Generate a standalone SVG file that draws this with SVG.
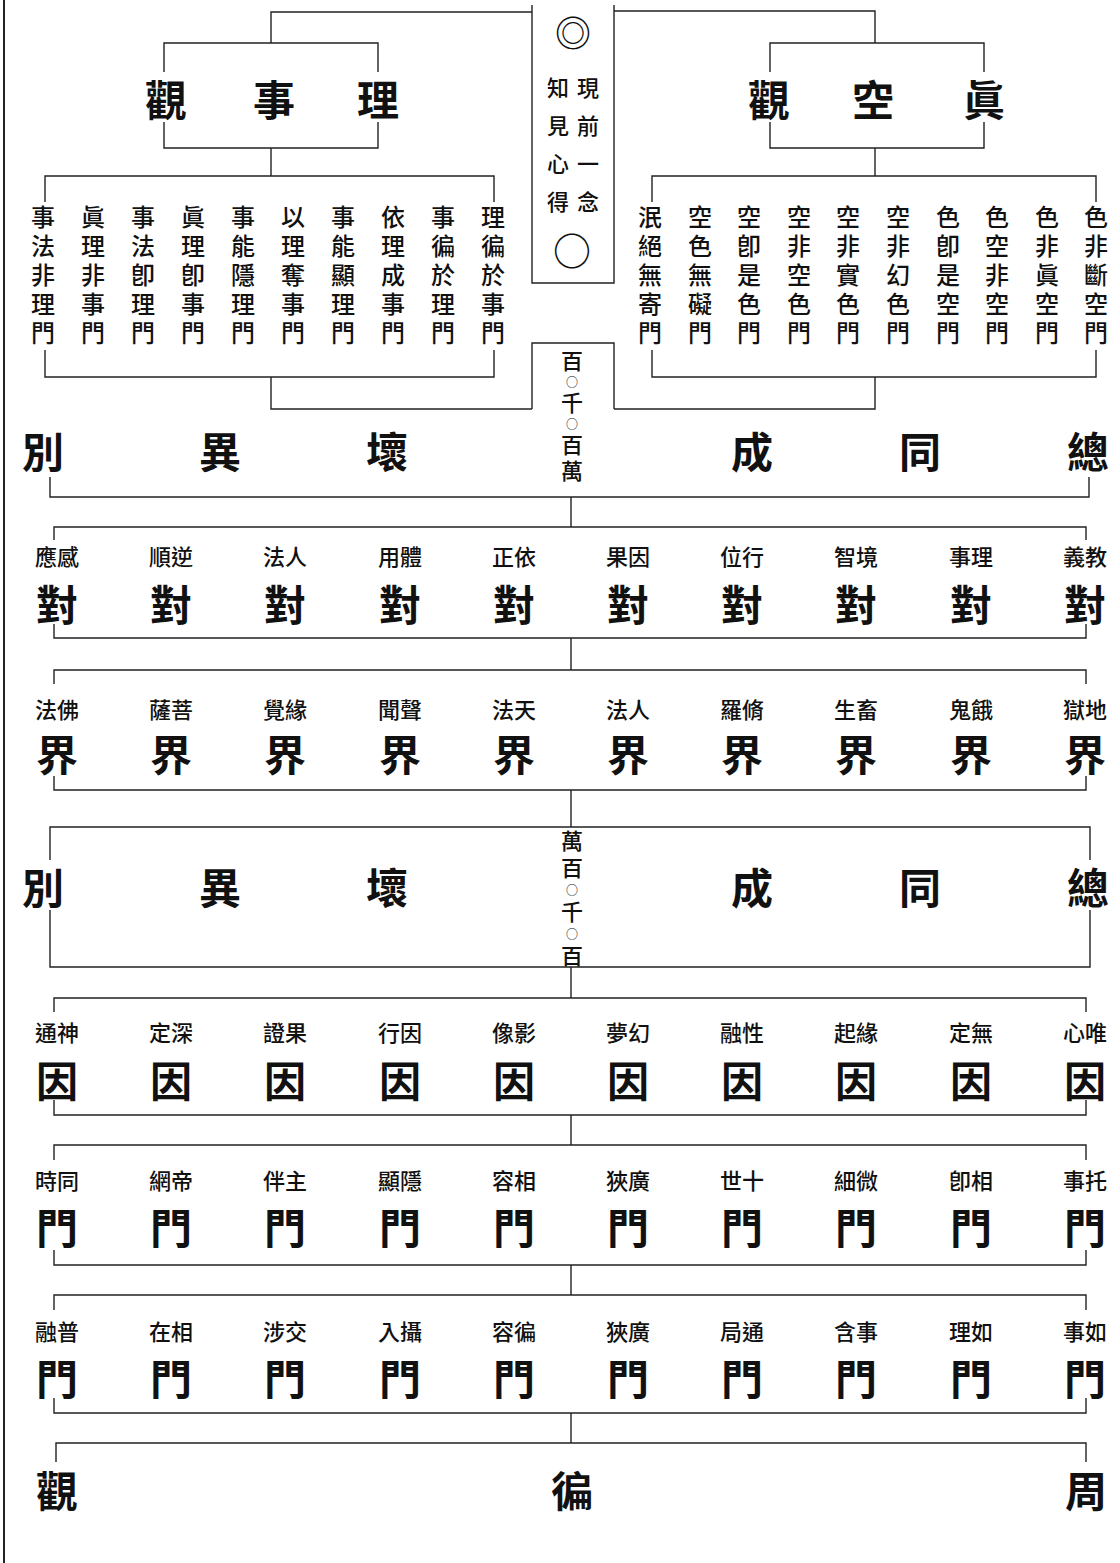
<svg xmlns="http://www.w3.org/2000/svg" width="1120" height="1563" viewBox="0 0 1120 1563">
<style>
text{font-family:"Noto Sans CJK TC","Noto Sans CJK JP",sans-serif;fill:#111;}
.big{font-size:42px;font-weight:700;text-anchor:middle;dominant-baseline:central;}
.lab{font-size:22px;font-weight:500;text-anchor:middle;dominant-baseline:central;}
.col{font-size:24px;font-weight:500;writing-mode:vertical-rl;letter-spacing:5px;dominant-baseline:central;}
.ctr{font-size:22px;font-weight:500;text-anchor:middle;dominant-baseline:central;}
.cv{font-size:22px;font-weight:500;writing-mode:vertical-rl;letter-spacing:16px;dominant-baseline:central;}
.num{font-size:22px;font-weight:500;writing-mode:vertical-rl;dominant-baseline:central;}
.sm{font-size:12px;}
.ln{stroke:#222;stroke-width:1.4;fill:none;}
</style>
<rect width="1120" height="1563" fill="#fff"/>
<line x1="4" y1="0" x2="4" y2="1563" stroke="#222" stroke-width="2"/>

<g id="connectors" class="ln">
  <path d="M532 12 H271 V43"/>
  <path d="M614 11 H875 V43"/>
  <path d="M271 148 V176"/>
  <path d="M875 148 V176"/>
  <path d="M271 377 V409 H532"/>
  <path d="M875 377 V409 H614"/>
  <path d="M50 477 V497 H1089 V477"/>
  <path d="M571 497 V527"/>
  <path d="M54 540 V527 H1086 V540"/>
  <path d="M54 624 V638 H1086 V624"/>
  <path d="M571 638 V670"/>
  <path d="M54 684 V670 H1086 V684"/>
  <path d="M54 776 V790 H1086 V776"/>
  <path d="M571 790 V827"/>
  <path d="M571 967 V998"/>
  <path d="M54 1012 V998 H1086 V1012"/>
  <path d="M54 1100 V1115 H1086 V1100"/>
  <path d="M571 1115 V1145"/>
  <path d="M54 1160 V1145 H1086 V1160"/>
  <path d="M54 1250 V1265 H1086 V1250"/>
  <path d="M571 1265 V1295"/>
  <path d="M54 1310 V1295 H1086 V1310"/>
  <path d="M54 1398 V1413 H1086 V1398"/>
  <path d="M571 1413 V1443"/>
  <path d="M56 1462 V1443 H1086 V1462"/>
</g>

<g id="center-box">
  <path class="ln" d="M532 5 V283 H614 V5"/>
  <text class="ctr" x="573" y="31" style="font-size:36px">◎</text>
  <text class="cv" x="588" y="77">現前一念</text>
  <text class="cv" x="558" y="77">知見心得</text>
  <text class="ctr" x="572" y="248" style="font-size:38px">○</text>
</g>

<g id="shili-guan">
  <path class="ln" d="M164 72 V43 H378 V72 M164 122 V148 H378 V122"/>
  <text class="big"><tspan x="166" y="97">觀</tspan><tspan x="274" y="97">事</tspan><tspan x="378" y="97">理</tspan></text>
</g>

<g id="zhenkong-guan">
  <path class="ln" d="M770 72 V43 H984 V72 M770 122 V148 H984 V122"/>
  <text class="big"><tspan x="769" y="97">觀</tspan><tspan x="873" y="97">空</tspan><tspan x="984" y="97">眞</tspan></text>
</g>

<g id="shili-columns">
  <path class="ln" d="M45 202 V176 H494 V202 M45 350 V377 H494 V350"/>
  <text class="col" x="43" y="205">事法非理門</text>
  <text class="col" x="93" y="205">眞理非事門</text>
  <text class="col" x="143" y="205">事法卽理門</text>
  <text class="col" x="193" y="205">眞理卽事門</text>
  <text class="col" x="243" y="205">事能隱理門</text>
  <text class="col" x="293" y="205">以理奪事門</text>
  <text class="col" x="343" y="205">事能顯理門</text>
  <text class="col" x="393" y="205">依理成事門</text>
  <text class="col" x="443" y="205">事徧於理門</text>
  <text class="col" x="493" y="205">理徧於事門</text>
</g>

<g id="zhenkong-columns">
  <path class="ln" d="M652 202 V176 H1096 V202 M652 350 V377 H1096 V350"/>
  <text class="col" x="650" y="205">泯絕無寄門</text>
  <text class="col" x="700" y="205">空色無礙門</text>
  <text class="col" x="749" y="205">空卽是色門</text>
  <text class="col" x="799" y="205">空非空色門</text>
  <text class="col" x="848" y="205">空非實色門</text>
  <text class="col" x="898" y="205">空非幻色門</text>
  <text class="col" x="948" y="205">色卽是空門</text>
  <text class="col" x="997" y="205">色空非空門</text>
  <text class="col" x="1047" y="205">色非眞空門</text>
  <text class="col" x="1096" y="205">色非斷空門</text>
</g>

<g id="number-box-1">
  <path class="ln" d="M532 409 V343 H614 V409"/>
  <text class="num" x="572" y="350" letter-spacing="4">百<tspan class="sm">○</tspan>千<tspan class="sm">○</tspan>百萬</text>
</g>

<g id="row-liuxiang-1">
  <text class="big"><tspan x="43" y="449">別</tspan><tspan x="220" y="449">異</tspan><tspan x="387" y="449">壞</tspan><tspan x="752" y="449">成</tspan><tspan x="920" y="449">同</tspan><tspan x="1088" y="449">總</tspan></text>
</g>

<g id="row-dui">
  <text class="lab"><tspan x="57" y="555">應感</tspan><tspan x="171" y="555">順逆</tspan><tspan x="285" y="555">法人</tspan><tspan x="400" y="555">用體</tspan><tspan x="514" y="555">正依</tspan><tspan x="628" y="555">果因</tspan><tspan x="742" y="555">位行</tspan><tspan x="856" y="555">智境</tspan><tspan x="971" y="555">事理</tspan><tspan x="1085" y="555">義教</tspan></text>
  <text class="big"><tspan x="57" y="602">對</tspan><tspan x="171" y="602">對</tspan><tspan x="285" y="602">對</tspan><tspan x="400" y="602">對</tspan><tspan x="514" y="602">對</tspan><tspan x="628" y="602">對</tspan><tspan x="742" y="602">對</tspan><tspan x="856" y="602">對</tspan><tspan x="971" y="602">對</tspan><tspan x="1085" y="602">對</tspan></text>
</g>

<g id="row-jie">
  <text class="lab"><tspan x="57" y="708">法佛</tspan><tspan x="171" y="708">薩菩</tspan><tspan x="285" y="708">覺緣</tspan><tspan x="400" y="708">聞聲</tspan><tspan x="514" y="708">法天</tspan><tspan x="628" y="708">法人</tspan><tspan x="742" y="708">羅脩</tspan><tspan x="856" y="708">生畜</tspan><tspan x="971" y="708">鬼餓</tspan><tspan x="1085" y="708">獄地</tspan></text>
  <text class="big"><tspan x="57" y="752">界</tspan><tspan x="171" y="752">界</tspan><tspan x="285" y="752">界</tspan><tspan x="400" y="752">界</tspan><tspan x="514" y="752">界</tspan><tspan x="628" y="752">界</tspan><tspan x="742" y="752">界</tspan><tspan x="856" y="752">界</tspan><tspan x="971" y="752">界</tspan><tspan x="1085" y="752">界</tspan></text>
</g>

<g id="row-liuxiang-2">
  <path class="ln" d="M50 860 V827 H1090 V860 M50 910 V967 H1090 V910"/>
  <text class="big"><tspan x="43" y="885">別</tspan><tspan x="220" y="885">異</tspan><tspan x="387" y="885">壞</tspan><tspan x="752" y="885">成</tspan><tspan x="920" y="885">同</tspan><tspan x="1088" y="885">總</tspan></text>
  <text class="num" x="572" y="830" letter-spacing="5">萬百<tspan class="sm">○</tspan>千<tspan class="sm">○</tspan>百</text>
</g>

<g id="row-yin">
  <text class="lab"><tspan x="57" y="1031">通神</tspan><tspan x="171" y="1031">定深</tspan><tspan x="285" y="1031">證果</tspan><tspan x="400" y="1031">行因</tspan><tspan x="514" y="1031">像影</tspan><tspan x="628" y="1031">夢幻</tspan><tspan x="742" y="1031">融性</tspan><tspan x="856" y="1031">起緣</tspan><tspan x="971" y="1031">定無</tspan><tspan x="1085" y="1031">心唯</tspan></text>
  <text class="big"><tspan x="57" y="1078">因</tspan><tspan x="171" y="1078">因</tspan><tspan x="285" y="1078">因</tspan><tspan x="400" y="1078">因</tspan><tspan x="514" y="1078">因</tspan><tspan x="628" y="1078">因</tspan><tspan x="742" y="1078">因</tspan><tspan x="856" y="1078">因</tspan><tspan x="971" y="1078">因</tspan><tspan x="1085" y="1078">因</tspan></text>
</g>

<g id="row-men-1">
  <text class="lab"><tspan x="57" y="1179">時同</tspan><tspan x="171" y="1179">網帝</tspan><tspan x="285" y="1179">伴主</tspan><tspan x="400" y="1179">顯隱</tspan><tspan x="514" y="1179">容相</tspan><tspan x="628" y="1179">狹廣</tspan><tspan x="742" y="1179">世十</tspan><tspan x="856" y="1179">細微</tspan><tspan x="971" y="1179">卽相</tspan><tspan x="1085" y="1179">事托</tspan></text>
  <text class="big"><tspan x="57" y="1225">門</tspan><tspan x="171" y="1225">門</tspan><tspan x="285" y="1225">門</tspan><tspan x="400" y="1225">門</tspan><tspan x="514" y="1225">門</tspan><tspan x="628" y="1225">門</tspan><tspan x="742" y="1225">門</tspan><tspan x="856" y="1225">門</tspan><tspan x="971" y="1225">門</tspan><tspan x="1085" y="1225">門</tspan></text>
</g>

<g id="row-men-2">
  <text class="lab"><tspan x="57" y="1330">融普</tspan><tspan x="171" y="1330">在相</tspan><tspan x="285" y="1330">涉交</tspan><tspan x="400" y="1330">入攝</tspan><tspan x="514" y="1330">容徧</tspan><tspan x="628" y="1330">狹廣</tspan><tspan x="742" y="1330">局通</tspan><tspan x="856" y="1330">含事</tspan><tspan x="971" y="1330">理如</tspan><tspan x="1085" y="1330">事如</tspan></text>
  <text class="big"><tspan x="57" y="1376">門</tspan><tspan x="171" y="1376">門</tspan><tspan x="285" y="1376">門</tspan><tspan x="400" y="1376">門</tspan><tspan x="514" y="1376">門</tspan><tspan x="628" y="1376">門</tspan><tspan x="742" y="1376">門</tspan><tspan x="856" y="1376">門</tspan><tspan x="971" y="1376">門</tspan><tspan x="1085" y="1376">門</tspan></text>
</g>

<g id="row-zhoubian-guan">
  <text class="big"><tspan x="57" y="1488">觀</tspan><tspan x="572" y="1488">徧</tspan><tspan x="1086" y="1488">周</tspan></text>
</g>
</svg>
